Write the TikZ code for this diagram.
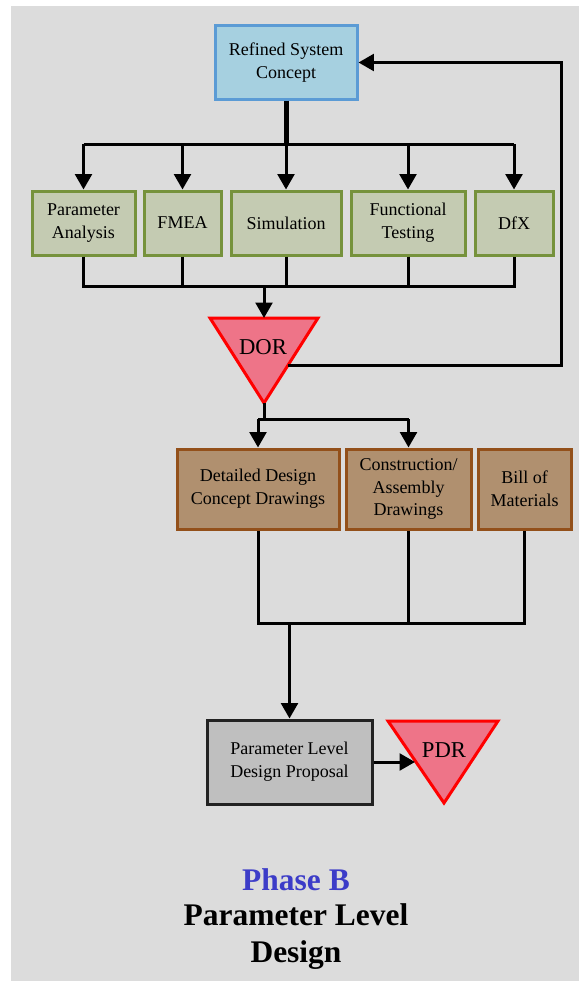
\documentclass[tikz,border=0pt]{standalone}
\usepackage{fontspec}
\setmainfont{Liberation Serif}
\usetikzlibrary{arrows.meta}
\definecolor{bgc}{HTML}{DCDCDC}
\definecolor{bluefill}{HTML}{A6D0E0}
\definecolor{blueline}{HTML}{5B9BD5}
\definecolor{greenfill}{HTML}{C4CBB2}
\definecolor{greenline}{HTML}{76923C}
\definecolor{brownfill}{HTML}{B0906F}
\definecolor{brownline}{HTML}{93501A}
\definecolor{redfill}{HTML}{EE7488}
\definecolor{redline}{HTML}{FF0000}
\definecolor{grayfill}{HTML}{BFBFBF}
\definecolor{grayline}{HTML}{222222}
\definecolor{phaseblue}{HTML}{3C3CC8}
\begin{document}
\begin{tikzpicture}[x=0.75pt,y=-0.75pt,
  box/.style={draw, line width=2.25pt, rectangle, align=center, inner sep=0pt,
    font=\fontsize{13.5}{17}\selectfont},
  bluebox/.style={box, fill=bluefill, draw=blueline},
  greenbox/.style={box, fill=greenfill, draw=greenline, minimum height=48pt},
  brownbox/.style={box, fill=brownfill, draw=brownline, minimum height=60pt},
  graybox/.style={box, fill=grayfill, draw=grayline},
  tri/.style={fill=redfill, draw=redline, line width=2.25pt, line join=miter},
  trilabel/.style={font=\fontsize{17}{20}\selectfont, inner sep=0pt},
  conn/.style={line width=2.25pt, draw=black},
  arr/.style={conn, -{Triangle[width=12.5pt,length=11.5pt]}},
  titlefont/.style={font=\bfseries\fontsize{23.6}{27.75}\selectfont, align=center, inner sep=0pt}
]
\useasboundingbox (0,0) rectangle (581,981);
\fill[bgc] (11,6) rectangle (579,981);

% top box
\node[bluebox, minimum width=106.5pt, minimum height=54.75pt] (rsc) at (286,62.5) {Refined System\\Concept};

% green row
\node[greenbox, minimum width=77.25pt] (pa) at (83.5,223) {Parameter\\Analysis};
\node[greenbox, minimum width=57.75pt] (fmea) at (182.5,223) {FMEA};
\node[greenbox, minimum width=82.5pt] (sim) at (286,223) {Simulation};
\node[greenbox, minimum width=85.5pt] (ft) at (408,223) {Functional\\Testing};
\node[greenbox, minimum width=58.5pt] (dfx) at (514,223) {DfX};

% DOR triangle
\coordinate (dl) at (210,318);
\coordinate (dr) at (318,318);
\coordinate (db) at (264,403);
\coordinate (dortop) at (264,318);
\filldraw[tri] (dl) -- (dr) -- (db) -- cycle;
\node[trilabel] (dor) at (263,347) {DOR};

% brown row
\node[brownbox, minimum width=121.5pt] (dd) at (258,489) {Detailed Design\\Concept Drawings};
\node[brownbox, minimum width=93.75pt] (cad) at (408.5,489) {Construction/\\Assembly\\Drawings};
\node[brownbox, minimum width=69.75pt] (bom) at (524.5,489) {Bill of\\Materials};

% proposal box
\node[graybox, minimum width=123.75pt, minimum height=63pt] (pldp) at (289.5,762) {Parameter Level\\Design Proposal};

% PDR triangle
\coordinate (pl) at (388,721);
\coordinate (pr) at (498,721);
\coordinate (pb) at (444,803);
\coordinate (pdrleft) at (415,762);
\filldraw[tri] (pl) -- (pr) -- (pb) -- cycle;
\node[trilabel] (pdr) at (444,750) {PDR};

% connectors: top fan-out
\coordinate (bus1) at (286,144);
\draw[line width=3.75pt] (rsc.south) -- (bus1);
\draw[conn] (pa.north |- bus1) -- (dfx.north |- bus1);
\foreach \n in {pa,fmea,sim,ft,dfx}{
  \draw[arr] (\n.north |- bus1) -- (\n.north);
}

% fan-in to DOR
\coordinate (bus2) at (264,286);
\draw[conn] (pa.south) -- (pa.south |- bus2) -- (dfx.south |- bus2) -- (dfx.south);
\foreach \n in {fmea,sim,ft}{
  \draw[conn] (\n.south) -- (\n.south |- bus2);
}
\draw[arr] (bus2) -- (dortop);

% feedback loop
\coordinate (fb) at (288,365);
\coordinate (fbr) at (561,365);
\draw[arr] (fb) -- (fbr) |- (rsc.east);

% DOR to brown boxes
\coordinate (bus3) at (264,419);
\draw[conn] (db) -- (bus3);
\draw[conn] (dd.north |- bus3) -- (cad.north |- bus3);
\draw[arr] (dd.north |- bus3) -- (dd.north);
\draw[arr] (cad.north |- bus3) -- (cad.north);

% brown boxes to proposal
\coordinate (bus4) at (289.5,623);
\draw[conn] (dd.south) -- (dd.south |- bus4) -- (bom.south |- bus4) -- (bom.south);
\draw[conn] (cad.south) -- (cad.south |- bus4);
\draw[arr] (bus4) -- (pldp.north);

% proposal to PDR
\draw[arr] (pldp.east) -- (pdrleft);

% titles
\node[titlefont, text=phaseblue] (phase) at (296,880) {Phase B};
\node[titlefont] (title) at (296,936.5) {Parameter Level\\Design};
\end{tikzpicture}
\end{document}
